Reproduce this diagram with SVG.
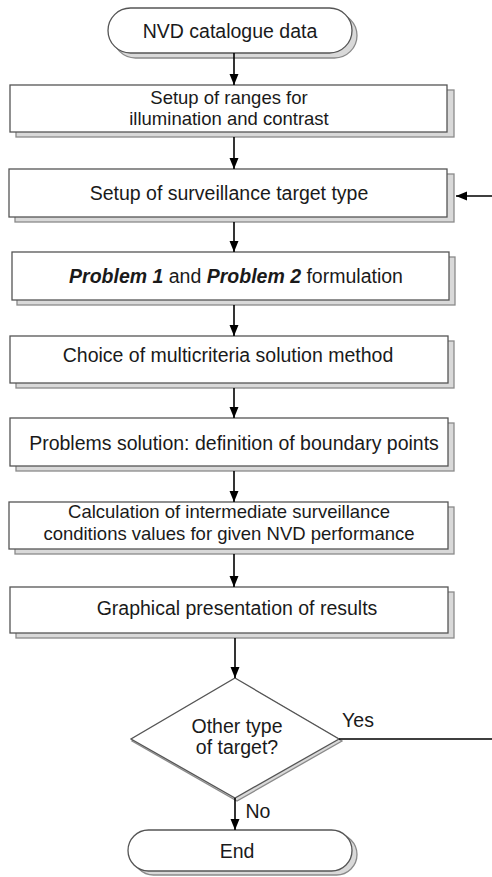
<svg xmlns="http://www.w3.org/2000/svg" width="492" height="877" viewBox="0 0 492 877">
<defs>
<style>
.box{fill:#fff;stroke:#555;stroke-width:1.3}
.sh{fill:#d9d9d9;stroke:#8a8a8a;stroke-width:1.3}
.t{font-family:"Liberation Sans",Arial,sans-serif;font-size:19.5px;fill:#1a1a1a;text-anchor:middle}
.t2{font-family:"Liberation Sans",Arial,sans-serif;font-size:18.5px;fill:#1a1a1a;text-anchor:middle}
.c{fill:none;stroke:#000;stroke-width:1.6}
.bi{font-weight:bold;font-style:italic}
</style>
<marker id="ah" markerUnits="userSpaceOnUse" markerWidth="12" markerHeight="10" refX="11" refY="4.5" orient="auto">
<path d="M0,0 L11,4.5 L0,9 z" fill="#000"/>
</marker>
</defs>
<rect width="492" height="877" fill="#fff"/>

<g id="start">
<rect class="sh" x="113" y="13" width="244" height="45" rx="22.5"/>
<rect class="box" x="108" y="8" width="244" height="45" rx="22.5"/>
<text class="t" x="230" y="38">NVD catalogue data</text>
</g>

<g id="ranges">
<rect class="sh" x="16" y="90" width="438" height="47"/>
<rect class="box" x="10" y="85" width="437" height="47"/>
<text class="t2" x="229" y="104">Setup of ranges for</text>
<text class="t2" x="229" y="125">illumination and contrast</text>
</g>

<g id="target">
<rect class="sh" x="15" y="174" width="439" height="48"/>
<rect class="box" x="9" y="169" width="438" height="48"/>
<text class="t" x="229" y="200">Setup of surveillance target type</text>
</g>

<g id="problems">
<rect class="sh" x="17" y="257" width="438" height="48"/>
<rect class="box" x="12" y="252" width="437" height="48"/>
<text class="t" x="236" y="283"><tspan class="bi">Problem 1</tspan> and <tspan class="bi">Problem 2</tspan> formulation</text>
</g>

<g id="method">
<rect class="sh" x="16" y="341" width="438" height="47"/>
<rect class="box" x="10" y="336" width="438" height="47"/>
<text class="t" x="228" y="362">Choice of multicriteria solution method</text>
</g>

<g id="solution">
<rect class="sh" x="16" y="423" width="438" height="48"/>
<rect class="box" x="10" y="418" width="438" height="48"/>
<text class="t" x="234" y="450">Problems solution: definition of boundary points</text>
</g>

<g id="calculation">
<rect class="sh" x="15" y="507" width="439" height="47"/>
<rect class="box" x="9" y="502" width="439" height="47"/>
<text class="t2" x="229" y="518">Calculation of intermediate surveillance</text>
<text class="t2" x="229" y="540">conditions values for given NVD performance</text>
</g>

<g id="graphical">
<rect class="sh" x="16" y="592" width="438" height="46"/>
<rect class="box" x="10" y="587" width="438" height="46"/>
<text class="t" x="237" y="615">Graphical presentation of results</text>
</g>

<g id="decision">
<polygon class="sh" points="237,680 342,741 237,801 132,741"/>
<polygon class="box" points="235,678 339,739 235,798 131,739"/>
<text class="t" x="237" y="733">Other type</text>
<text class="t" x="237" y="754">of target?</text>
</g>

<g id="end">
<rect class="sh" x="133" y="834" width="224" height="41" rx="20.5"/>
<rect class="box" x="128" y="830" width="224" height="41" rx="20.5"/>
<text class="t" x="237" y="858">End</text>
</g>

<g id="connectors">
<line class="c" x1="234" y1="53" x2="234" y2="85" marker-end="url(#ah)"/>
<line class="c" x1="234" y1="137" x2="234" y2="169" marker-end="url(#ah)"/>
<line class="c" x1="234" y1="222" x2="234" y2="252" marker-end="url(#ah)"/>
<line class="c" x1="234" y1="305" x2="234" y2="336" marker-end="url(#ah)"/>
<line class="c" x1="234" y1="388" x2="234" y2="418" marker-end="url(#ah)"/>
<line class="c" x1="234" y1="471" x2="234" y2="502" marker-end="url(#ah)"/>
<line class="c" x1="234" y1="554" x2="234" y2="587" marker-end="url(#ah)"/>
<line class="c" x1="235" y1="638" x2="235" y2="678" marker-end="url(#ah)"/>
<line class="c" x1="235" y1="798" x2="235" y2="830" marker-end="url(#ah)"/>
<path class="c" d="M339,739 H495 V196 H456" marker-end="url(#ah)"/>
<text class="t" x="358" y="727">Yes</text>
<text class="t" x="258" y="818">No</text>
</g>
</svg>
